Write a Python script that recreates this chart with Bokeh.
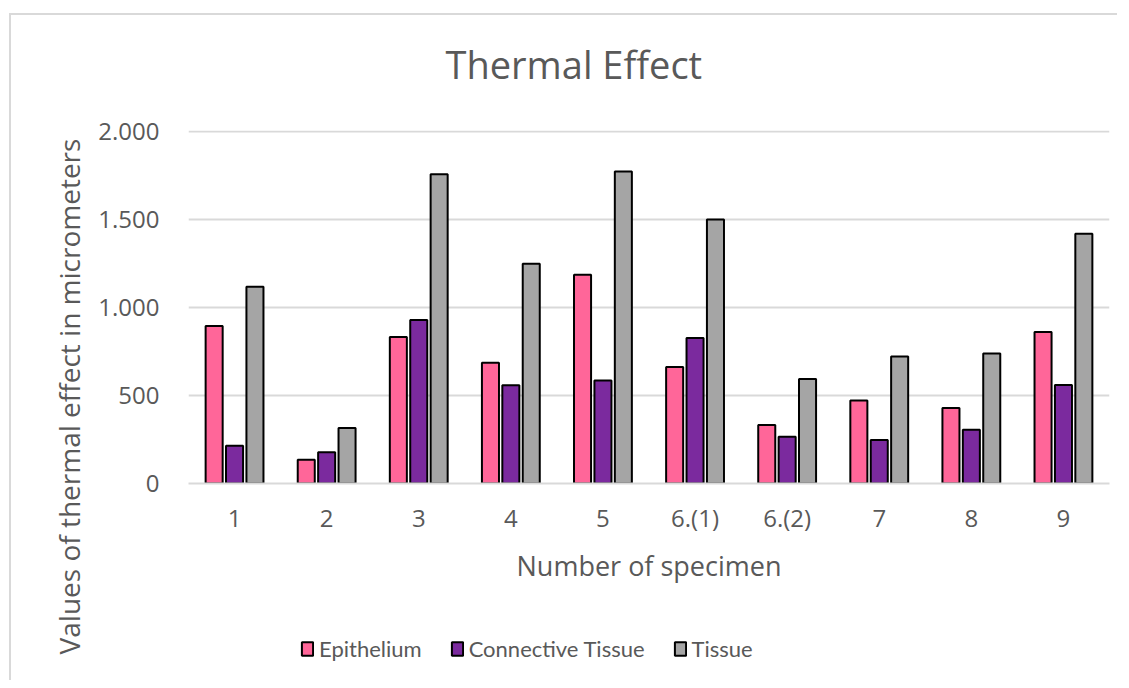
import math
import numpy as np
from bokeh.plotting import figure
from bokeh.layouts import column, row
from bokeh.models import (ColumnDataSource, FactorRange, Range1d, FixedTicker,
                          Legend, LegendItem, Title, Label)
from bokeh.transform import dodge
from bokeh.embed import file_html
from bokeh.resources import INLINE

# ---- data ----
specimens = ["1", "2", "3", "4", "5", "6.(1)", "6.(2)", "7", "8", "9"]
epithelium = [895, 135, 832, 686, 1185, 661, 332, 471, 429, 860]
connective_tissue = [215, 177, 929, 558, 585, 826, 266, 247, 306, 560]
tissue = [1117, 315, 1757, 1248, 1772, 1499, 593, 722, 739, 1419]
series_names = ["Epithelium", "Connective Tissue", "Tissue"]
y_ticks = [0, 500, 1000, 1500, 2000]
y_tick_labels = ["0", "500", "1.000", "1.500", "2.000"]
title_text = "Thermal Effect"
x_title = "Number of specimen"
y_title = "Values of thermal effect in micrometers"

colors = ["#FF6699", "#7B2A9E", "#A5A5A5"]
TEXT = "#595959"
GRID = "#D9D9D9"
FONT = "Open Sans"

source = ColumnDataSource(dict(x=specimens, e=epithelium, c=connective_tissue, t=tissue))

# ---- main chart ----
p = figure(x_range=FactorRange(*specimens, range_padding=0),
           y_range=Range1d(0, 2005),
           frame_width=921, frame_height=353,
           min_border_left=97, min_border_top=115,
           min_border_right=8, min_border_bottom=127,
           output_backend="svg", toolbar_location=None,
           background_fill_color="white", border_fill_color="white")
p.outline_line_color = None

series_cols = ["e", "c", "t"]
offsets = [-0.2215, 0.0, 0.2215]
renderers = []
for col, off, colr in zip(series_cols, offsets, colors):
    r = p.vbar(x=dodge("x", off, range=p.x_range), top=col, width=0.185, bottom=0,
               source=source, fill_color=colr, line_color="black", line_width=2)
    renderers.append(r)

# spacer between the frame and the title
spacer = Title(text=" ", text_font_size="1px", standoff=38)
p.add_layout(spacer, "above")

p.title.text = title_text
p.title.text_font = FONT
p.title.text_font_size = "38px"
p.title.text_font_style = "normal"
p.title.text_color = TEXT
p.title.align = "left"
p.title.offset = 257
p.title.standoff = 0

p.yaxis.ticker = FixedTicker(ticks=y_ticks)
p.yaxis.major_label_overrides = {k: v for k, v in zip(y_ticks, y_tick_labels)}
p.yaxis.axis_line_color = None
p.yaxis.major_tick_line_color = None
p.yaxis.minor_tick_line_color = None
p.yaxis.major_label_text_font = FONT
p.yaxis.major_label_text_font_size = "24px"
p.yaxis.major_label_text_color = TEXT
p.yaxis.major_label_standoff = 23

p.xaxis.axis_line_color = GRID
p.xaxis.axis_line_width = 2
p.xaxis.major_tick_line_color = None
p.xaxis.minor_tick_line_color = None
p.xaxis.major_label_text_font = FONT
p.xaxis.major_label_text_font_size = "24px"
p.xaxis.major_label_text_color = TEXT
p.xaxis.major_label_standoff = 11
p.xaxis.axis_label = x_title
p.xaxis.axis_label_text_font = FONT
p.xaxis.axis_label_text_font_size = "27px"
p.xaxis.axis_label_text_font_style = "normal"
p.xaxis.axis_label_text_color = TEXT
p.xaxis.axis_label_standoff = 10

p.xgrid.grid_line_color = None
p.ygrid.grid_line_color = GRID
p.ygrid.grid_line_width = 2

# ---- y-axis title strip (left) ----
yfig = figure(width=80, height=665, x_range=Range1d(0, 80), y_range=Range1d(0, 665),
              x_axis_type=None, y_axis_type=None, min_border=0,
              output_backend="svg", toolbar_location=None,
              background_fill_color="white", border_fill_color="white")
yfig.outline_line_color = None
yfig.grid.visible = False
yfig.add_layout(Label(x=57, y=284, text=y_title, angle=math.pi / 2,
                      text_align="center", text_baseline="alphabetic",
                      text_font=FONT, text_font_size="28px", text_color=TEXT))

# ---- legend strip (bottom) ----
lp = figure(width=1026, height=70, x_range=Range1d(0, 1), y_range=Range1d(0, 1),
            x_axis_type=None, y_axis_type=None, min_border=0,
            output_backend="svg", toolbar_location=None,
            background_fill_color="white", border_fill_color="white")
lp.outline_line_color = None
lp.grid.visible = False
legend_src = ColumnDataSource(dict(x=np.array([np.nan]), top=np.array([np.nan])))
leg_renderers = []
for colr in colors:
    r = lp.vbar(x="x", top="top", width=0.1, source=legend_src,
                fill_color=colr, line_color="black", line_width=2)
    leg_renderers.append(r)

legend = Legend(items=[LegendItem(label=n, renderers=[r]) for n, r in zip(series_names, leg_renderers)],
                orientation="horizontal", location=(112, 18),
                glyph_width=14, glyph_height=17, label_standoff=5, spacing=28,
                label_text_font="Lato", label_text_font_size="22px", label_text_color=TEXT,
                padding=0, margin=0, border_line_color=None, background_fill_alpha=0)
lp.add_layout(legend)

layout = row(yfig, column(p, lp, spacing=0), spacing=0)
layout.styles = {"border-top": "2px solid #D9D9D9", "border-left": "2px solid #D9D9D9",
                 "margin-top": "13px", "margin-left": "9px"}

open("out.html", "w").write(file_html(layout, INLINE))
